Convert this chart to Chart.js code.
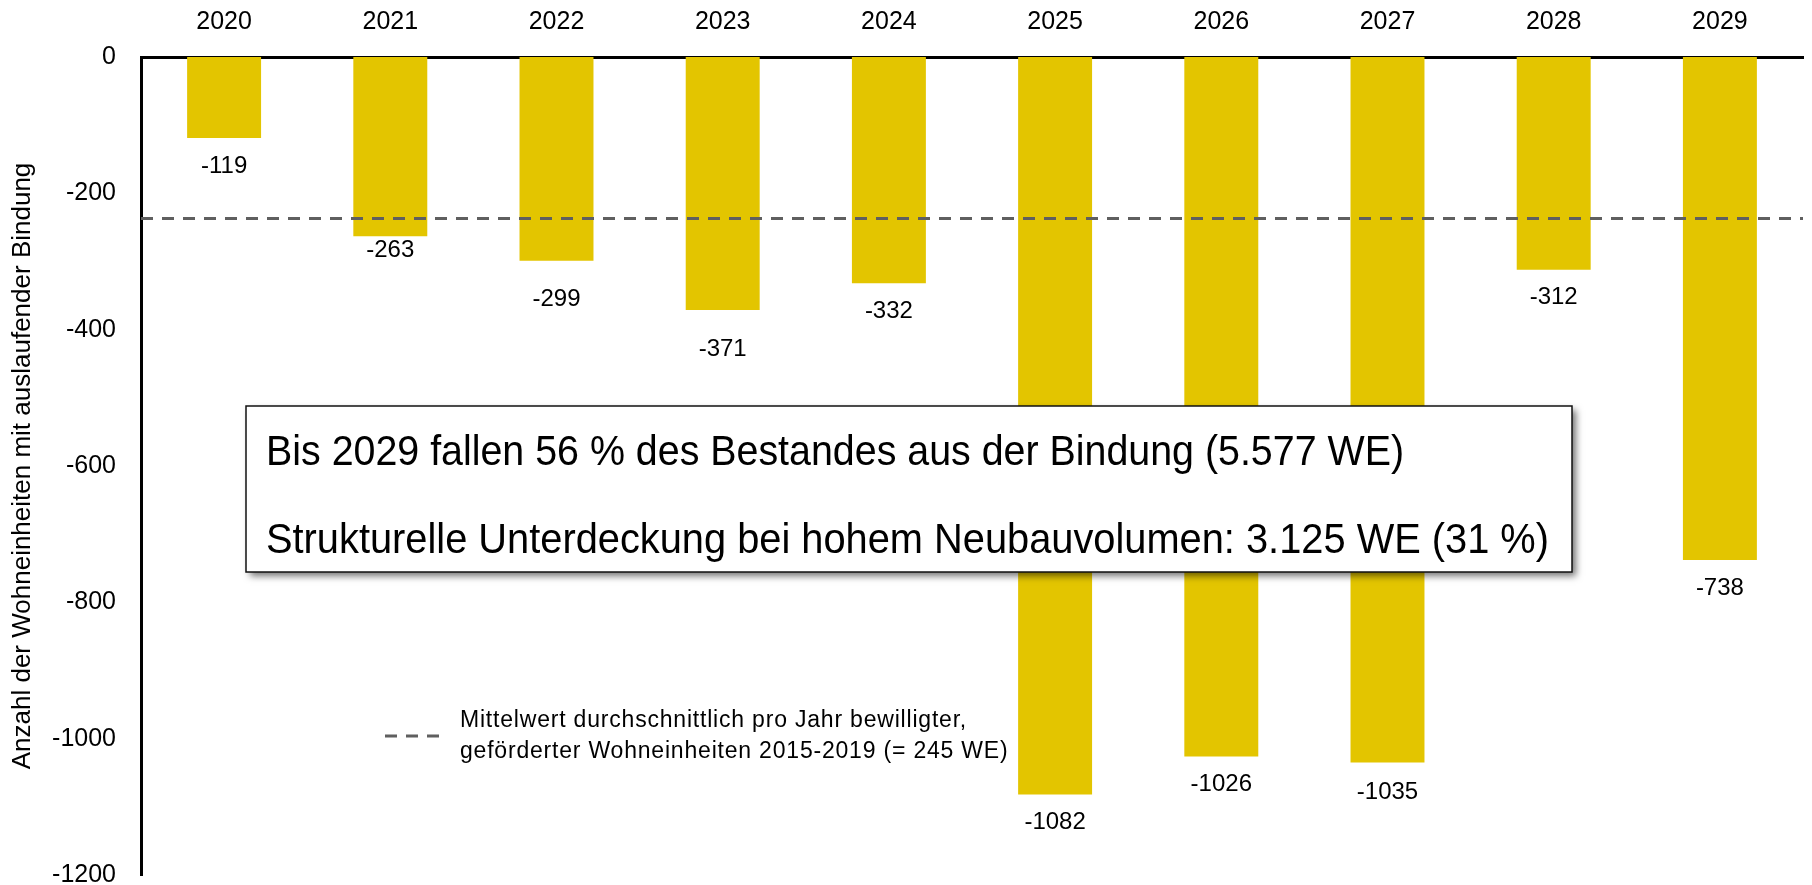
<!DOCTYPE html>
<html lang="de">
<head>
    <meta charset="UTF-8">
    <title>Auslaufende Bindungen</title>
    <script src="https://cdn.jsdelivr.net/npm/chart.js"></script>
    <style type="text/css">
        body{
            margin: 0;
            background: #fff;
        }
        .grafica{
            width: 1812px;
            height: 885px;
            position: relative;
        }
    </style>
</head>
<body>
    <div class="grafica">
        <canvas id="myChart"></canvas>
    </div>
    <script>
        // datos
        const years = ['2020', '2021', '2022', '2023', '2024', '2025', '2026', '2027', '2028', '2029'];
        const expiring = [-119, -263, -299, -371, -332, -1082, -1026, -1035, -312, -738];
        const avgLevel = -237;
        const yMin = -1200;
        const yMax = 0;
        const yStep = 200;
        const yTitle = 'Anzahl der Wohneinheiten mit auslaufender Bindung';
        const boxLines = [
            'Bis 2029 fallen 56 % des Bestandes aus der Bindung (5.577 WE)',
            'Strukturelle Unterdeckung bei hohem Neubauvolumen: 3.125 WE (31 %)'
        ];
        const legendLines = [
            'Mittelwert durchschnittlich pro Jahr bewilligter,',
            'geförderter Wohneinheiten 2015-2019 (= 245 WE)'
        ];

        const FONT = '"Liberation Sans", Arial, Helvetica, sans-serif';
        const barColor = '#E3C500';
        const lineColor = '#5f5f5f';
        // small manual shifts of the value labels, as in the original
        const labelNudge = [0, -14, 11, 11, 0, 0, 0, 2, 0, 0];
        // widths of the two lines in the text box (narrow type)
        const boxWidths = [1138, 1283];

        // etiquetas de valores debajo de las barras
        const valueLabels = {
            id: 'valueLabels',
            afterDatasetsDraw(chart) {
                const ctx = chart.ctx;
                const meta = chart.getDatasetMeta(1);
                ctx.save();
                ctx.font = '24px ' + FONT;
                ctx.fillStyle = '#000';
                ctx.textAlign = 'center';
                ctx.textBaseline = 'middle';
                meta.data.forEach(function (bar, i) {
                    ctx.fillText(String(expiring[i]), bar.x, bar.y + 28 + labelNudge[i]);
                });
                ctx.restore();
            }
        };

        // cuadro de texto y leyenda
        const notes = {
            id: 'notes',
            afterDraw(chart) {
                const ctx = chart.ctx;
                ctx.save();
                // caja con sombra
                ctx.shadowColor = 'rgba(0,0,0,0.55)';
                ctx.shadowBlur = 7;
                ctx.shadowOffsetX = 4;
                ctx.shadowOffsetY = 4;
                ctx.fillStyle = '#fff';
                ctx.fillRect(246, 406, 1326, 166);
                ctx.shadowColor = 'transparent';
                ctx.strokeStyle = '#111';
                ctx.lineWidth = 1.5;
                ctx.strokeRect(246, 406, 1326, 166);

                // texto algo estrecho, como en el original
                ctx.fillStyle = '#000';
                ctx.textAlign = 'left';
                ctx.textBaseline = 'middle';
                ctx.font = '43px ' + FONT;
                const rows = [453, 541];
                boxLines.forEach(function (txt, i) {
                    const sx = boxWidths[i] / ctx.measureText(txt).width;
                    ctx.save();
                    ctx.translate(266, rows[i]);
                    ctx.scale(sx, 1);
                    ctx.fillText(txt, 0, 0);
                    ctx.restore();
                });

                // leyenda de la línea
                const ds = chart.data.datasets[0];
                ctx.strokeStyle = ds.borderColor;
                ctx.lineWidth = ds.borderWidth;
                ctx.setLineDash(ds.borderDash);
                ctx.beginPath();
                ctx.moveTo(385, 736);
                ctx.lineTo(439, 736);
                ctx.stroke();
                ctx.setLineDash([]);

                ctx.font = '23px ' + FONT;
                ctx.letterSpacing = '0.8px';
                ctx.fillText(legendLines[0], 460, 721);
                ctx.fillText(legendLines[1], 460, 752);
                ctx.restore();
            }
        };

        const data = {
            labels: years,
            datasets: [{
                type: 'line',
                label: legendLines.join(' '),
                data: [{x: -0.5, y: avgLevel}, {x: years.length - 0.5, y: avgLevel}],
                xAxisID: 'xLine',
                yAxisID: 'y',
                borderColor: lineColor,
                borderWidth: 3,
                borderDash: [12, 9],
                pointRadius: 0,
                fill: false,
                order: 0
            },
            {
                type: 'bar',
                label: 'auslaufende Bindung',
                data: expiring,
                xAxisID: 'x',
                yAxisID: 'y',
                backgroundColor: barColor,
                borderWidth: 0,
                grouped: false,
                barPercentage: 0.445,
                categoryPercentage: 1,
                order: 1
            }]
        };

        const config = {
            type: 'bar',
            data: data,
            plugins: [valueLabels, notes],
            options: {
                responsive: true,
                maintainAspectRatio: false,
                animation: false,
                layout: {
                    padding: {top: 0, right: 9, bottom: 10, left: 0}
                },
                plugins: {
                    legend: {display: false},
                    tooltip: {enabled: false}
                },
                scales: {
                    x: {
                        type: 'category',
                        position: 'top',
                        offset: true,
                        grid: {display: false, drawTicks: false},
                        border: {display: true, color: '#000', width: 3},
                        ticks: {
                            color: '#000',
                            padding: 20,
                            font: {family: FONT, size: 25}
                        },
                        afterFit: function (scale) {
                            scale.height = 57;
                        }
                    },
                    xLine: {
                        type: 'linear',
                        display: false,
                        offset: false,
                        min: -0.5,
                        max: years.length - 0.5
                    },
                    y: {
                        type: 'linear',
                        min: yMin,
                        max: yMax,
                        grid: {display: false, drawTicks: false},
                        border: {display: true, color: '#000', width: 3},
                        ticks: {
                            stepSize: yStep,
                            color: '#000',
                            padding: 25,
                            font: {family: FONT, size: 25},
                            callback: function (value) {
                                return String(value);
                            }
                        },
                        title: {
                            display: true,
                            text: yTitle,
                            color: '#000',
                            padding: {top: 7, bottom: 0},
                            font: {family: FONT, size: 26}
                        },
                        afterFit: function (scale) {
                            scale.width = 141;
                            scale.paddingTop = 0;
                            scale.paddingBottom = 0;
                        }
                    }
                }
            }
        };

        const myChart = new Chart(
            document.getElementById('myChart'),
            config
        );
    </script>
</body>
</html>
